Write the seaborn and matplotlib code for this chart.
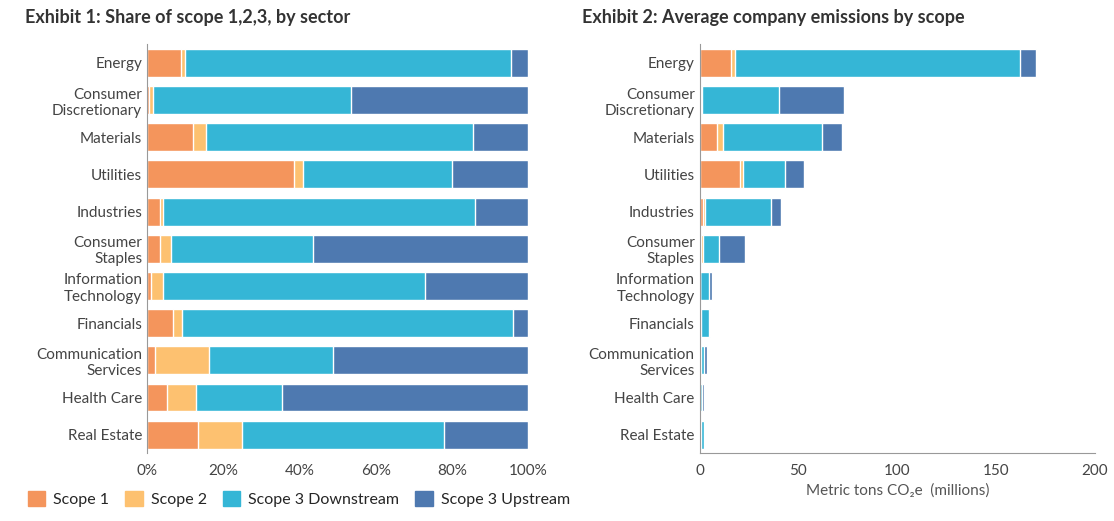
import matplotlib.pyplot as plt
import seaborn as sns
import numpy as np
from matplotlib.ticker import PercentFormatter

sectors = ["Energy", "Consumer\nDiscretionary", "Materials", "Utilities", "Industries",
           "Consumer\nStaples", "Information\nTechnology", "Financials",
           "Communication\nServices", "Health Care", "Real Estate"]
scopes = ["Scope 1", "Scope 2", "Scope 3 Downstream", "Scope 3 Upstream"]
colors = ["#F4955C", "#FDC170", "#35B6D6", "#4E79B0"]

# share (%) per scope
share_s1 = [9, 0.5, 12, 38.5, 3.5, 3.3, 1, 6.8, 2, 5.3, 13.5]
share_s2 = [1, 1, 3.5, 2.5, 0.8, 3, 3.2, 2.5, 14.3, 7.5, 11.5]
share_s3d = [85.5, 52, 70, 39, 81.7, 37.2, 68.8, 86.7, 32.5, 22.5, 53]
share_s3u = [4.5, 46.5, 14.5, 20, 14, 56.5, 27, 4, 51.2, 64.7, 22]

# average emissions (millions t CO2e)
em_s1 = [16, 0.5, 9, 20.5, 1.5, 0.8, 0.1, 0.3, 0.1, 0.1, 0.3]
em_s2 = [2, 0.5, 3, 1.5, 1, 0.7, 0.2, 0.2, 0.4, 0.2, 0.3]
em_s3d = [144, 39, 50, 21, 33.5, 8.5, 4.7, 4.5, 1.5, 0.7, 1.4]
em_s3u = [8, 33, 10, 10, 5, 13, 1.5, 0.2, 1.5, 1, 0.5]

sns.set_style("white")
plt.rcParams['font.family'] = ['Lato', 'DejaVu Sans']

fig = plt.figure(figsize=(11.14, 5.21), dpi=100)
ax1 = fig.add_axes([0.132, 0.13, 0.342, 0.785])
ax2 = fig.add_axes([0.628, 0.13, 0.355, 0.785])


def stacked(ax, parts):
    cum = np.cumsum(np.array(parts), axis=0)
    for i in range(len(parts) - 1, -1, -1):
        sns.barplot(x=cum[i], y=sectors, color=colors[i], ax=ax, width=0.75,
                    orient="h", saturation=1, label=scopes[i])


stacked(ax1, [share_s1, share_s2, share_s3d, share_s3u])
stacked(ax2, [em_s1, em_s2, em_s3d, em_s3u])

ax1.set_xlim(0, 100)
ax1.set_xticks([0, 20, 40, 60, 80, 100])
ax1.xaxis.set_major_formatter(PercentFormatter(decimals=0))
ax2.set_xlim(0, 200)
ax2.set_xticks([0, 50, 100, 150, 200])
ax2.set_xlabel("Metric tons CO₂e  (millions)", fontsize=11, color="#555555")

for ax in (ax1, ax2):
    ax.set_ylabel("")
    ax.tick_params(axis="both", labelsize=11, colors="#444444", length=0)
    for s in ["top", "right"]:
        ax.spines[s].set_visible(False)
    ax.spines["left"].set_color("#999999")
    ax.spines["bottom"].set_color("#999999")
    if ax.get_legend():
        ax.get_legend().remove()
ax1.spines["bottom"].set_visible(False)
ax1.tick_params(axis="x", length=4, color="#999999")
ax2.tick_params(axis="x", length=4, color="#999999")

fig.text(0.022, 0.955, "Exhibit 1: Share of scope 1,2,3, by sector", fontsize=13,
         fontweight="bold", color="#333333")
fig.text(0.522, 0.955, "Exhibit 2: Average company emissions by scope", fontsize=13,
         fontweight="bold", color="#333333")

handles = [plt.Rectangle((0, 0), 1, 1, color=c) for c in colors]
fig.legend(handles, scopes, loc="lower left", bbox_to_anchor=(0.012, 0.0), ncol=4,
           frameon=False, fontsize=11.5, handlelength=1.1, handleheight=1.1,
           columnspacing=1.0, handletextpad=0.5)

plt.savefig("out.png", dpi=100)
